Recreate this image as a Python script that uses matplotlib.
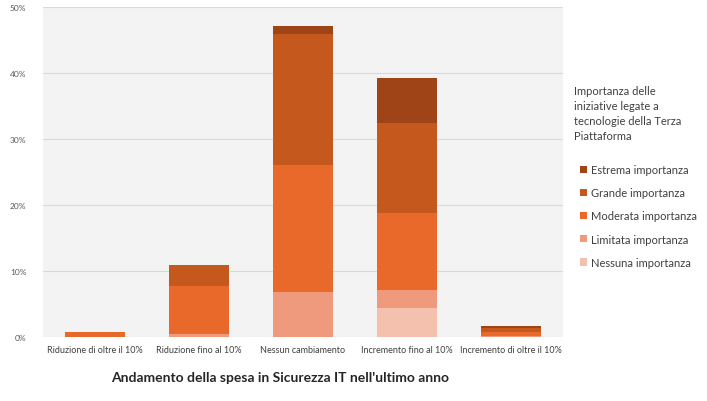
import numpy as np
import matplotlib.pyplot as plt
from matplotlib.patches import Patch

plt.rcParams['font.family'] = ['Lato', 'DejaVu Sans']

categories = ["Riduzione di oltre il 10%", "Riduzione fino al 10%", "Nessun cambiamento",
              "Incremento fino al 10%", "Incremento di oltre il 10%"]
series = ["Nessuna importanza", "Limitata importanza", "Moderata importanza",
          "Grande importanza", "Estrema importanza"]
nessuna = [0.0, 0.0, 0.0, 4.4, 0.0]
limitata = [0.0, 0.5, 6.8, 2.7, 0.2]
moderata = [0.8, 7.2, 19.3, 11.7, 0.5]
grande = [0.0, 3.2, 19.8, 13.6, 0.6]
estrema = [0.0, 0.0, 1.2, 6.8, 0.4]
values = [nessuna, limitata, moderata, grande, estrema]
colors = ["#f4c1ae", "#ef9a7c", "#e8692a", "#c5591d", "#9e4416"]
yticks = [0, 10, 20, 30, 40, 50]

fig = plt.figure(figsize=(7.07, 4.02), dpi=100)
ax = fig.add_axes([43 / 707, 1 - 338 / 402, 520 / 707, 330 / 402])
ax.set_facecolor("#f3f3f3")

x = np.arange(len(categories))
bottom = np.zeros(len(categories))
for name, vals, col in zip(series, values, colors):
    ax.bar(x, vals, 0.57, bottom=bottom, color=col, label=name, edgecolor="none", zorder=3)
    bottom += np.array(vals)

ax.set_xlim(-0.5, 4.5)
ax.set_ylim(0, 50)
ax.set_yticks(yticks)
ax.set_yticklabels([f"{t}%" for t in yticks], fontsize=6, color="#595959")
ax.set_xticks(x)
ax.set_xticklabels(categories, fontsize=6.5, color="#404040")
ax.grid(axis="y", color="#d9d9d9", linewidth=0.8, zorder=0)
ax.tick_params(length=0, pad=6)
ax.tick_params(axis="y", pad=12)
for s in ax.spines.values():
    s.set_visible(False)

fig.text(280 / 707, 1 - 378 / 402, "Andamento della spesa in Sicurezza IT nell'ultimo anno",
         ha="center", va="center", fontsize=10, fontweight="bold", color="#262626")

fig.text(574 / 707, 1 - 86 / 402,
         "Importanza delle\niniziative legate a\ntecnologie della Terza\nPiattaforma",
         ha="left", va="top", fontsize=8, color="#404040", linespacing=1.45)

handles = [Patch(facecolor=c, label=n) for n, c in zip(series, colors)][::-1]
leg = fig.legend(handles=handles, loc="upper left", bbox_to_anchor=(570 / 707, 1 - 155 / 402),
                 frameon=False, fontsize=8, handlelength=0.6, handleheight=0.6,
                 handletextpad=0.4, labelspacing=1.1)
for t in leg.get_texts():
    t.set_color("#404040")

fig.savefig("out.png", dpi=100)
